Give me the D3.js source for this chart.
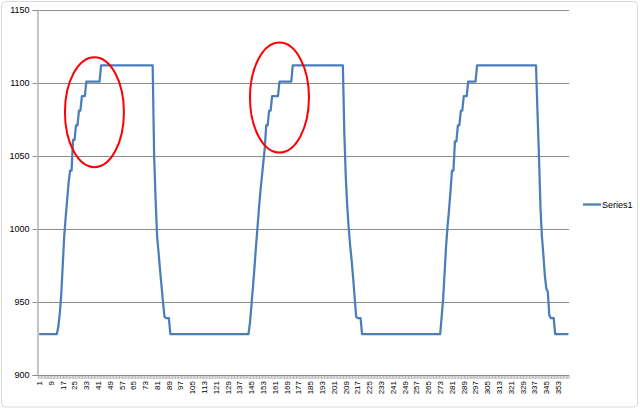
<!DOCTYPE html>
<html>
<head>
<meta charset="utf-8">
<script src="https://cdn.jsdelivr.net/npm/d3@7/dist/d3.min.js"></script>
<style>
  html, body { margin: 0; padding: 0; background: #fff; }
  svg { display: block; }
</style>
</head>
<body>
<div id="chart"></div>
<script>
// ---- data ----
const seriesName = "Series1";
const values = [
  928,928,928,928,928,928,928,928,928,928,
  928,928,928,933,942,955,975,995,1008,1020,
  1032,1040,1040,1061,1061,1071,1071,1081,1081,1091,
  1091,1091,1101,1101,1101,1101,1101,1101,1101,1101,
  1101,1101,1112,1112,1112,1112,1112,1112,1112,1112,
  1112,1112,1112,1112,1112,1112,1112,1112,1112,1112,
  1112,1112,1112,1112,1112,1112,1112,1112,1112,1112,
  1112,1112,1112,1112,1112,1112,1112,1112,1050,1020,
  995,984,972,961,950,940,939,939,939,928,
  928,928,928,928,928,928,928,928,928,928,
  928,928,928,928,928,928,928,928,928,928,
  928,928,928,928,928,928,928,928,928,928,
  928,928,928,928,928,928,928,928,928,928,
  928,928,928,928,928,928,928,928,928,928,
  928,928,928,936,948,960,973,987,1000,1013,
  1025,1035,1045,1055,1071,1071,1081,1081,1091,1091,
  1091,1091,1091,1101,1101,1101,1101,1101,1101,1101,
  1101,1101,1112,1112,1112,1112,1112,1112,1112,1112,
  1112,1112,1112,1112,1112,1112,1112,1112,1112,1112,
  1112,1112,1112,1112,1112,1112,1112,1112,1112,1112,
  1112,1112,1112,1112,1112,1112,1112,1065,1035,1015,
  1000,988,978,966,953,940,939,939,939,928,
  928,928,928,928,928,928,928,928,928,928,
  928,928,928,928,928,928,928,928,928,928,
  928,928,928,928,928,928,928,928,928,928,
  928,928,928,928,928,928,928,928,928,928,
  928,928,928,928,928,928,928,928,928,928,
  928,928,928,940,952,970,988,1002,1013,1026,
  1040,1040,1060,1060,1071,1071,1081,1081,1091,1091,
  1091,1101,1101,1101,1101,1101,1101,1112,1112,1112,
  1112,1112,1112,1112,1112,1112,1112,1112,1112,1112,
  1112,1112,1112,1112,1112,1112,1112,1112,1112,1112,
  1112,1112,1112,1112,1112,1112,1112,1112,1112,1112,
  1112,1112,1112,1112,1112,1112,1112,1112,1080,1050,
  1015,995,982,968,959,957,941,939,939,939,
  928,928,928,928,928,928,928,928,928,928
];
const categories = values.map((v, i) => i + 1);
const xTickLabels = [1,9,17,25,33,41,49,57,65,73,81,89,97,105,113,121,129,137,145,153,
  161,169,177,185,193,201,209,217,225,233,241,249,257,265,273,281,289,297,305,313,
  321,329,337,345,353];
const yTicks = [900, 950, 1000, 1050, 1100, 1150];
// red annotation ellipses (category, value at centre)
const annCats = [38.5, 164];
const annVals = [1080, 1090];

// ---- layout ----
const W = 640, H = 409;
const mLeft = 38.4, mRight = 569.2, mTop = 10, mBottom = 375;

const svg = d3.select("#chart").append("svg")
  .attr("width", W).attr("height", H);

svg.append("rect").attr("x", 0).attr("y", 0).attr("width", W).attr("height", H).attr("fill", "#fff");
svg.append("rect")
  .attr("x", 1.5).attr("y", 1.5).attr("width", 636).attr("height", 405.5)
  .attr("rx", 4).attr("fill", "#fff").attr("stroke", "#d9d9d9").attr("stroke-width", 1);

const x = d3.scaleLinear().domain([0.5, categories.length + 0.5]).range([mLeft, mRight]);
const y = d3.scaleLinear().domain([900, 1150]).range([mBottom, mTop]);

// gridlines
svg.append("g").selectAll("line").data(yTicks.filter(d => d > 900)).join("line")
  .attr("x1", mLeft).attr("x2", mRight)
  .attr("y1", d => Math.round(y(d)) + 0.5).attr("y2", d => Math.round(y(d)) + 0.5)
  .attr("stroke", "#8c8c8c").attr("stroke-width", 1);

// y axis
const yAxis = svg.append("g")
  .attr("transform", `translate(${Math.round(mLeft) - 0.5},0)`)
  .call(d3.axisLeft(y).tickValues(yTicks).tickSize(5).tickFormat(d3.format("d")));
yAxis.select(".domain").attr("stroke", "#8c8c8c");
yAxis.selectAll(".tick line").attr("stroke", "#8c8c8c");
yAxis.selectAll(".tick text")
  .attr("font-family", "Liberation Sans, Arial, sans-serif")
  .attr("font-size", 9).attr("fill", "#000").attr("x", -8);

// x axis line + category tick marks
const xg = svg.append("g");
xg.append("line")
  .attr("x1", mLeft).attr("x2", mRight)
  .attr("y1", Math.round(y(900)) + 0.5).attr("y2", Math.round(y(900)) + 0.5)
  .attr("stroke", "#8c8c8c");
const boundaries = d3.range(0, categories.length + 1).map(i => i + 0.5);
xg.selectAll("line.tk").data(boundaries).join("line").attr("class", "tk")
  .attr("x1", d => x(d)).attr("x2", d => x(d))
  .attr("y1", Math.round(y(900)) + 0.5).attr("y2", Math.round(y(900)) + 4)
  .attr("stroke", "#8c8c8c").attr("stroke-width", 0.6);
xg.selectAll("text").data(xTickLabels).join("text")
  .attr("transform", d => `translate(${x(d)},${mBottom + 6}) rotate(-90)`)
  .attr("text-anchor", "end").attr("dy", "0.35em")
  .attr("font-family", "Liberation Sans, Arial, sans-serif")
  .attr("font-size", 8).attr("fill", "#000")
  .text(d => d);

// series line
const line = d3.line().x((d, i) => x(categories[i])).y(d => y(d));
svg.append("path").datum(values)
  .attr("fill", "none").attr("stroke", "#4a7ebb").attr("stroke-width", 2.25)
  .attr("stroke-linejoin", "round")
  .attr("d", line);

// annotations
svg.append("g").selectAll("ellipse").data(annCats).join("ellipse")
  .attr("cx", d => x(d)).attr("cy", (d, i) => y(annVals[i]))
  .attr("rx", 29.5).attr("ry", 55)
  .attr("fill", "none").attr("stroke", "#ff0000").attr("stroke-width", 2);

// legend
const lg = svg.append("g").attr("transform", "translate(583,204.5)");
lg.append("line").attr("x1", 0).attr("x2", 18).attr("y1", 0).attr("y2", 0)
  .attr("stroke", "#4a7ebb").attr("stroke-width", 2.25);
lg.append("text").attr("x", 19).attr("y", 0).attr("dy", "0.35em")
  .attr("font-family", "Liberation Sans, Arial, sans-serif")
  .attr("font-size", 9).attr("fill", "#000").text(seriesName);
</script>
</body>
</html>
